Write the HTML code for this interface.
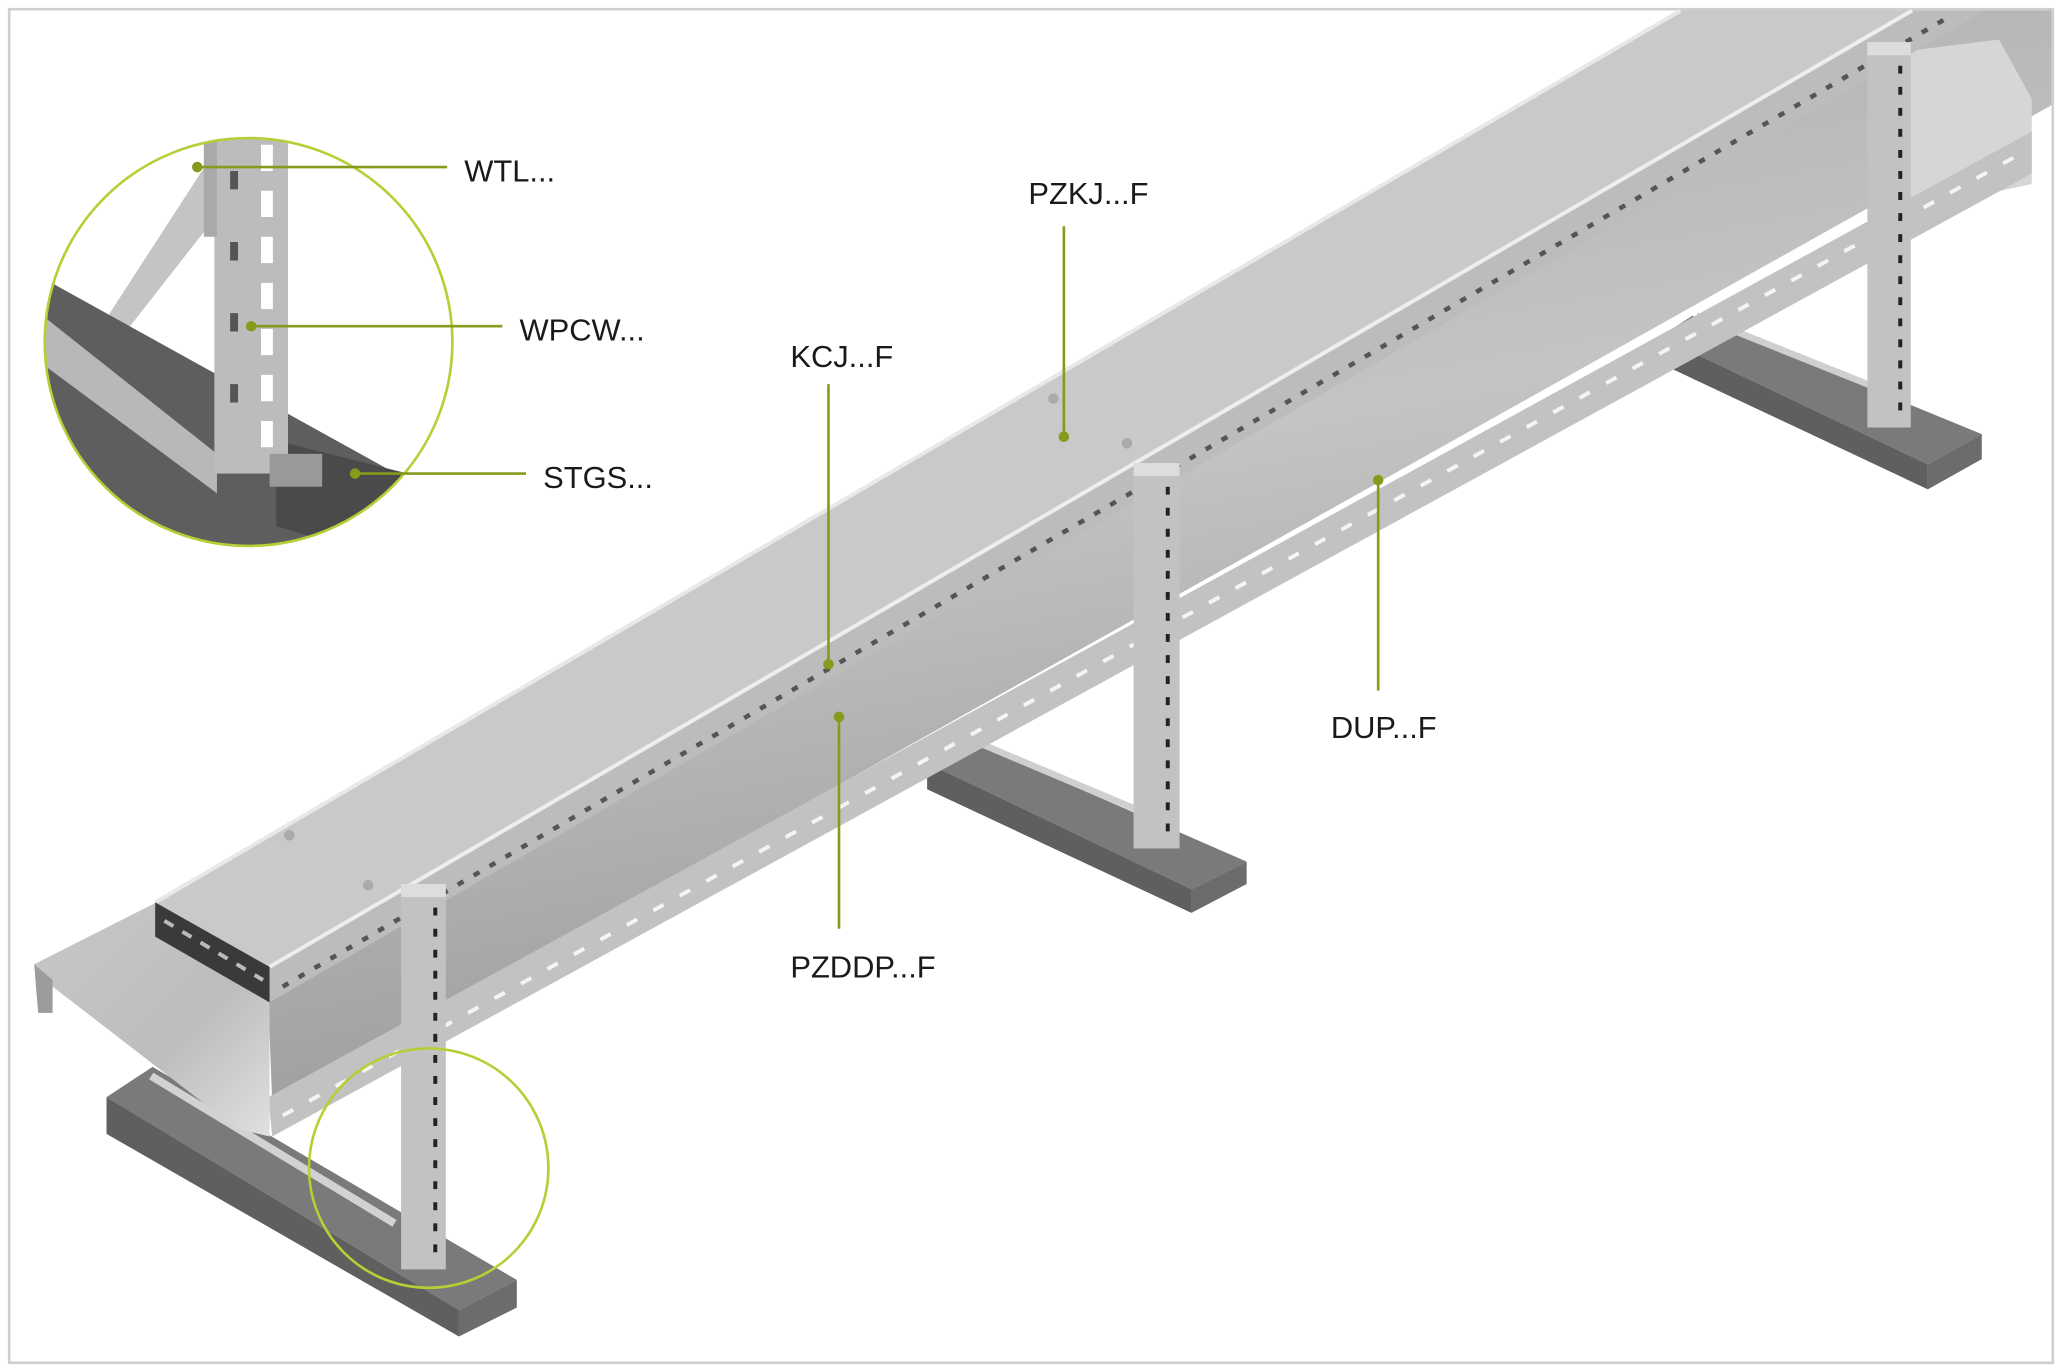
<!DOCTYPE html>
<html><head><meta charset="utf-8"><style>
html,body{margin:0;padding:0;background:#fff;}
svg{display:block;}
text{font-family:"Liberation Sans",sans-serif;font-size:23.5px;fill:#1a1a1a;}
</style></head><body>
<svg width="2062" height="1372" viewBox="0 0 1568 1043" preserveAspectRatio="none" xmlns="http://www.w3.org/2000/svg">
<defs>
<linearGradient id="inner" x1="0" y1="0" x2="0.3" y2="1">
<stop offset="0" stop-color="#a8a8a8"/><stop offset="0.5" stop-color="#c4c4c4"/><stop offset="1" stop-color="#9a9a9a"/>
</linearGradient>
<linearGradient id="lowlid" x1="0" y1="0" x2="1" y2="1">
<stop offset="0" stop-color="#c8c8c8"/><stop offset="0.6" stop-color="#bdbdbd"/><stop offset="1" stop-color="#e0e0e0"/>
</linearGradient>
<clipPath id="cc"><circle cx="189" cy="260" r="155"/></clipPath>
</defs>
<rect x="7" y="7" width="1554" height="1029" fill="#fff" stroke="#cfcfcf" stroke-width="2"/>

<g>
<polygon points="1262,256 1287,240 1507,330 1466,353" fill="#7a7a7a"/>
<polygon points="1262,256 1466,353 1466,372 1262,276" fill="#5f5f5f"/>
<polygon points="1466,353 1507,330 1507,349 1466,372" fill="#6c6c6c"/>
<line x1="1290" y1="240" x2="1440" y2="300" stroke="#cfcfcf" stroke-width="5"/>
<polygon points="705,580 730,560 948,655 906,676" fill="#7a7a7a"/>
<polygon points="705,580 906,676 906,694 705,600" fill="#5f5f5f"/>
<polygon points="906,676 948,655 948,672 906,694" fill="#6c6c6c"/>
<line x1="733" y1="560" x2="880" y2="622" stroke="#cfcfcf" stroke-width="5"/>
<polygon points="81,834 116,811 393,973 349,996" fill="#7a7a7a"/>
<polygon points="81,834 349,996 349,1016 81,862" fill="#5f5f5f"/>
<polygon points="349,996 393,973 393,994 349,1016" fill="#6c6c6c"/>
<line x1="115" y1="818" x2="300" y2="930" stroke="#d2d2d2" stroke-width="6"/>
</g>

<polygon points="204,760 1497,8 1560,8 1560,80 207,838" fill="url(#inner)"/>
<polygon points="1440,40 1520,30 1545,75 1545,140 1450,160" fill="#d6d6d6"/>
<polygon points="204,834 1545,100 1545,132 207,864" fill="#c2c2c2"/>
<line x1="215" y1="848" x2="1540" y2="115" stroke="#f4f4f4" stroke-width="3" stroke-dasharray="9 14"/>
<polygon points="26,733 119,686 205,737 205,864 180,858 40,750 29,745" fill="url(#lowlid)"/>
<polygon points="26,733 29,770 40,770 40,745" fill="#9c9c9c"/>

<polygon points="205,735 1454,8 1510,8 205,762" fill="#bcbcbc"/>
<line x1="215" y1="750" x2="1480" y2="14" stroke="#555" stroke-width="3.5" stroke-dasharray="5 9"/>
<polygon points="118,686 1278,8 1454,8 205,735" fill="#c9c9c9"/>
<line x1="118" y1="686" x2="1278" y2="8" stroke="#e8e8e8" stroke-width="3"/>
<line x1="205" y1="735" x2="1454" y2="8" stroke="#eeeeee" stroke-width="3"/>
<polygon points="118,686 205,735 205,762 118,712" fill="#3a3a3a"/>
<line x1="125" y1="700" x2="200" y2="745" stroke="#bbb" stroke-width="3" stroke-dasharray="8 8"/>
<circle cx="220" cy="635" r="4" fill="#aaa"/><circle cx="280" cy="673" r="4" fill="#aaa"/>
<circle cx="801" cy="303" r="4" fill="#aaa"/><circle cx="857" cy="337" r="4" fill="#aaa"/>

<g>
<rect x="1420" y="35" width="33" height="290" fill="#c2c2c2"/>
<line x1="1445" y1="50" x2="1445" y2="315" stroke="#222" stroke-width="3" stroke-dasharray="6 10"/>
<rect x="1420" y="32" width="33" height="10" fill="#ddd"/>
<rect x="862" y="355" width="35" height="290" fill="#c2c2c2"/>
<line x1="888" y1="370" x2="888" y2="635" stroke="#222" stroke-width="3" stroke-dasharray="6 10"/>
<rect x="862" y="352" width="35" height="10" fill="#ddd"/>
<rect x="305" y="675" width="34" height="290" fill="#c2c2c2"/>
<line x1="331" y1="690" x2="331" y2="955" stroke="#222" stroke-width="3" stroke-dasharray="6 10"/>
<rect x="305" y="672" width="34" height="10" fill="#ddd"/>
</g>

<g clip-path="url(#cc)">
<rect x="30" y="100" width="320" height="320" fill="#fff"/>
<polygon points="66,265 160,120 160,170 66,290" fill="#c4c4c4"/>
<polygon points="30,210 310,365 310,430 30,430" fill="#5e5e5e"/>
<polygon points="30,238 165,345 165,375 30,275" fill="#b8b8b8"/>
<polygon points="210,335 310,360 310,430 210,400" fill="#4a4a4a"/>
<rect x="163" y="100" width="56" height="260" fill="#bcbcbc"/>
<line x1="203" y1="110" x2="203" y2="350" stroke="#fff" stroke-width="9" stroke-dasharray="20 15"/>
<line x1="178" y1="130" x2="178" y2="340" stroke="#555" stroke-width="6" stroke-dasharray="14 40"/>
<rect x="155" y="100" width="10" height="80" fill="#a9a9a9"/>
<rect x="205" y="345" width="40" height="25" fill="#999"/>
</g>
<circle cx="189" cy="260" r="155" fill="none" stroke="#b5cf36" stroke-width="2"/>
<circle cx="326" cy="888" r="91" fill="none" stroke="#b5cf36" stroke-width="2"/>

<g stroke="#849b1c" stroke-width="2" fill="#849b1c">
<line x1="150" y1="127" x2="340" y2="127"/><circle cx="150" cy="127" r="3"/>
<line x1="191" y1="248" x2="382" y2="248"/><circle cx="191" cy="248" r="3"/>
<line x1="270" y1="360" x2="400" y2="360"/><circle cx="270" cy="360" r="3"/>
<line x1="809" y1="172" x2="809" y2="332"/><circle cx="809" cy="332" r="3"/>
<line x1="630" y1="292" x2="630" y2="505"/><circle cx="630" cy="505" r="3"/>
<line x1="1048" y1="365" x2="1048" y2="525"/><circle cx="1048" cy="365" r="3"/>
<line x1="638" y1="545" x2="638" y2="706"/><circle cx="638" cy="545" r="3"/>
</g>
<text x="353" y="138">WTL...</text>
<text x="395" y="259">WPCW...</text>
<text x="413" y="371">STGS...</text>
<text x="782" y="155">PZKJ...F</text>
<text x="601" y="279">KCJ...F</text>
<text x="1012" y="561">DUP...F</text>
<text x="601" y="743">PZDDP...F</text>
</svg>
</body></html>
